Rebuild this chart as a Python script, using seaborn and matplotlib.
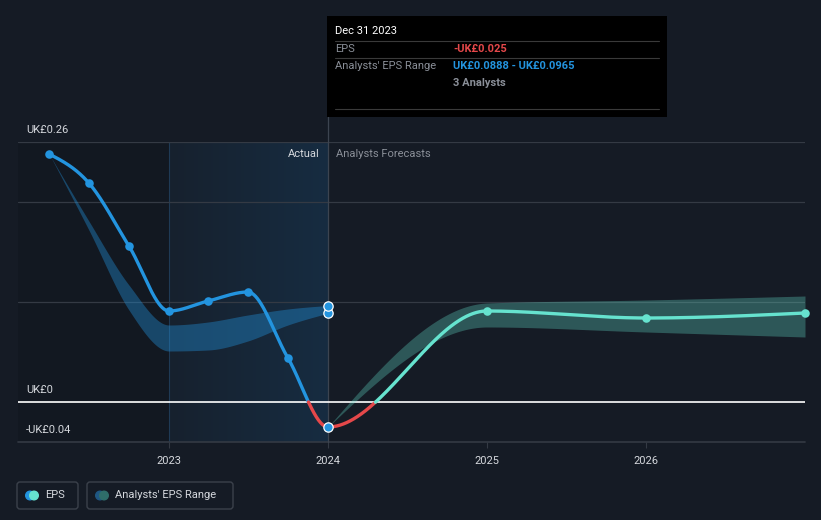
import numpy as np
import pandas as pd
import matplotlib
matplotlib.use("Agg")
import matplotlib.pyplot as plt
import seaborn as sns
from matplotlib.patches import Rectangle, FancyBboxPatch, Circle
from matplotlib.colors import LinearSegmentedColormap

# ---------------- data ----------------
actual_dates = ["2022-03-31", "2022-06-30", "2022-09-30", "2022-12-31",
                "2023-03-31", "2023-06-30", "2023-09-30", "2023-12-31"]
actual_eps = [0.248, 0.219, 0.156, 0.091, 0.101, 0.110, 0.044, -0.025]

past_range_low = [0.248, 0.172, 0.092, 0.051, 0.052, 0.061, 0.077, 0.0888]
past_range_high = [0.248, 0.181, 0.117, 0.077, 0.080, 0.087, 0.093, 0.0965]

forecast_dates = ["2023-12-31", "2024-12-31", "2025-12-31", "2026-12-31"]
forecast_eps = [-0.025, 0.091, 0.084, 0.089]
forecast_low = [-0.025, 0.075, 0.070, 0.065]
forecast_high = [-0.025, 0.099, 0.102, 0.106]

y_ticks = [0.26, 0.0, -0.04]
y_tick_labels = ["UK£0.26", "UK£0", "-UK£0.04"]
grid_levels = [0.26, 0.2, 0.1]
x_ticks = [2023, 2024, 2025, 2026]
x_tick_labels = ["2023", "2024", "2025", "2026"]

tooltip_title = "Dec 31 2023"
tooltip_eps = "-UK£0.025"
tooltip_range = "UK£0.0888 - UK£0.0965"
tooltip_analysts = "3 Analysts"

# ---------------- helpers ----------------
def to_year(dates):
    d = pd.to_datetime(pd.Series(dates))
    start = pd.to_datetime(d.dt.year.astype(str) + "-01-01")
    end = pd.to_datetime((d.dt.year + 1).astype(str) + "-01-01")
    return (d.dt.year + (d - start) / (end - start) + 1.0 / 365).to_numpy(dtype=float)


def monotone(x, y, n=300):
    x = np.asarray(x, float); y = np.asarray(y, float)
    h = np.diff(x); s = np.diff(y) / h
    m = len(x)
    t = np.zeros(m)
    sg = lambda v: -1.0 if v < 0 else 1.0
    for i in range(1, m - 1):
        p = (s[i - 1] * h[i] + s[i] * h[i - 1]) / (h[i - 1] + h[i])
        t[i] = (sg(s[i - 1]) + sg(s[i])) * min(abs(s[i - 1]), abs(s[i]), 0.5 * abs(p))
    if m > 2:
        t[0] = (3 * s[0] - t[1]) / 2
        t[-1] = (3 * s[-1] - t[-2]) / 2
    else:
        t[0] = t[-1] = s[0]
    xs, ys = [], []
    for i in range(m - 1):
        u = np.linspace(0, 1, n, endpoint=(i == m - 2))
        h00 = 2 * u**3 - 3 * u**2 + 1
        h10 = u**3 - 2 * u**2 + u
        h01 = -2 * u**3 + 3 * u**2
        h11 = u**3 - u**2
        xs.append(x[i] + u * h[i])
        ys.append(h00 * y[i] + h10 * h[i] * t[i] + h01 * y[i + 1] + h11 * h[i] * t[i + 1])
    return np.concatenate(xs), np.concatenate(ys)


ax_years = to_year(actual_dates)
fc_years = to_year(forecast_dates)

BG = "#151b25"
BLUE = "#2394df"
TEAL = "#66e3cf"
RED = "#e5484a"
GRID = "#343a44"
TXT = "#d5d8dd"
GREY = "#8a8f98"

sns.set_theme(style="dark", rc={"axes.facecolor": BG, "figure.facecolor": BG})
plt.rcParams["font.family"] = ["Roboto", "DejaVu Sans"]

W, H = 821, 520
fig = plt.figure(figsize=(W / 100, H / 100), dpi=100)
ax = fig.add_axes([18 / W, 1 - 442 / H, 787 / W, 300 / H])
ax.set_facecolor(BG)
ax.set_xlim(2023 - 151 / 159, 2027.0)
ax.set_ylim(-0.04, 0.26)
for sp in ax.spines.values():
    sp.set_visible(False)

# darker past area & highlighted last-year area
ax.axvspan(ax.get_xlim()[0], 2023, color="#121821", zorder=0, lw=0)
grad = np.linspace(0, 1, 256).reshape(1, -1)
cmap = LinearSegmentedColormap.from_list("g", ["#16212e", "#172c41"])
ax.imshow(grad, extent=[2023, 2024, -0.04, 0.26], aspect="auto", cmap=cmap, zorder=0.5)
ax.axvline(2023, color="#1f3a55", lw=0.8, zorder=0.6)

# grid
for g in grid_levels:
    ax.axhline(g, color=GRID, lw=0.9, zorder=1)
ax.axhline(-0.04, color=GRID, lw=1.2, zorder=1, clip_on=False)
ax.axhline(0.0, color="white", lw=1.2, zorder=2)

# hover line
ax.axvline(2024, ymin=0, ymax=(442 - 16) / 300, color="#3c4450", lw=0.9, zorder=1.5, clip_on=False)

# bands
bx, bl = monotone(ax_years, past_range_low)
_, bh = monotone(ax_years, past_range_high)
ax.fill_between(bx, bl, bh, color=BLUE, alpha=0.38, lw=0, zorder=3)
fx, fl = monotone(fc_years, forecast_low)
_, fh = monotone(fc_years, forecast_high)
ax.fill_between(fx, fl, fh, color=TEAL, alpha=0.30, lw=0, zorder=3)

# EPS line (continuous smooth curve through actual + forecast)
all_x = np.concatenate([ax_years, fc_years[1:]])
all_y = np.concatenate([actual_eps, forecast_eps[1:]])
lx, ly = monotone(all_x, all_y, n=600)
seg_blue = (lx <= 2024.0) & (ly >= 0)
seg_red = ly < 0
seg_teal = (lx > 2024.0) & (ly >= 0)
for mask, col in [(seg_blue, BLUE), (seg_red, RED), (seg_teal, TEAL)]:
    idx = np.where(mask)[0]
    lo, hi = max(idx.min() - 1, 0), min(idx.max() + 2, len(lx))
    sns.lineplot(x=lx[lo:hi], y=ly[lo:hi], ax=ax, color=col, lw=2.4,
                 sort=False, estimator=None, zorder=4)

# markers
sns.scatterplot(x=ax_years[:-1], y=actual_eps[:-1], ax=ax, color=BLUE, s=38,
                edgecolor=BLUE, linewidth=0, zorder=5)
sns.scatterplot(x=fc_years[1:], y=forecast_eps[1:], ax=ax, color=TEAL, s=38,
                edgecolor=TEAL, linewidth=0, zorder=5, clip_on=False)
sns.scatterplot(x=[ax_years[-1]] * 3,
                y=[actual_eps[-1], past_range_low[-1], past_range_high[-1]],
                ax=ax, color=BLUE, s=45, edgecolor="white", linewidth=0.9, zorder=6)

# ticks
ax.set_xticks(x_ticks)
ax.set_xticklabels(x_tick_labels, color=TXT, fontsize=8)
ax.tick_params(axis="x", length=4, width=0.8, color=GRID, pad=6, bottom=True)
ax.set_yticks([])
ax.set_xlabel(""); ax.set_ylabel("")
ax.grid(False)

for v, lab in zip(y_ticks, y_tick_labels):
    ax.annotate(lab, xy=(8 / 787, v), xycoords=("axes fraction", "data"),
                xytext=(0, 5), textcoords="offset points", ha="left", va="bottom",
                color=TXT, fontsize=8)

ax.annotate("Actual", xy=(2024, actual_eps[0]), xytext=(-6, 0), textcoords="offset points",
            ha="right", va="center", color=TXT, fontsize=8)
ax.annotate("Analysts Forecasts", xy=(2024, actual_eps[0]), xytext=(6, 0), textcoords="offset points",
            ha="left", va="center", color=GREY, fontsize=8)

# overlay in pixel coords for tooltip & legend
ov = fig.add_axes([0, 0, 1, 1], facecolor="none")
ov.set_xlim(0, W); ov.set_ylim(H, 0); ov.axis("off")

ov.add_patch(Rectangle((327, 16), 340, 101, facecolor="black", edgecolor="none", zorder=1))
for yy in (41, 58, 109):
    ov.plot([335, 659], [yy, yy], color="#3a3a3a", lw=0.8, zorder=2)
ov.text(335, 31, tooltip_title, color="white", fontsize=8, va="center", ha="left", zorder=3)
ov.text(335, 49, "EPS", color=GREY, fontsize=8, va="center", ha="left", zorder=3)
ov.text(453, 49, tooltip_eps, color=RED, fontsize=8, va="center", ha="left", zorder=3, fontweight="bold")
ov.text(335, 66, "Analysts' EPS Range", color=GREY, fontsize=8, va="center", ha="left", zorder=3)
ov.text(453, 66, tooltip_range, color=BLUE, fontsize=8, va="center", ha="left", zorder=3, fontweight="bold")
ov.text(453, 83, tooltip_analysts, color=GREY, fontsize=8, va="center", ha="left", zorder=3, fontweight="bold")

# legend
for (x0, w, c1, c2, lab) in [(17, 61, BLUE, TEAL, "EPS"),
                              (87, 146, "#1f5783", "#2f6e6a", "Analysts' EPS Range")]:
    ov.add_patch(FancyBboxPatch((x0, 482), w, 27, boxstyle="round,pad=0,rounding_size=3",
                                facecolor="none", edgecolor="#3b414b", lw=1))
    ov.add_patch(Circle((x0 + 13, 495.5), 4.3, color=c1, zorder=3))
    ov.add_patch(Circle((x0 + 17, 495.5), 4.3, color=c2, zorder=4))
    ov.text(x0 + 28, 495.5, lab, color=TXT, fontsize=8, va="center", ha="left")

fig.savefig("out.png", dpi=100, facecolor=BG)
